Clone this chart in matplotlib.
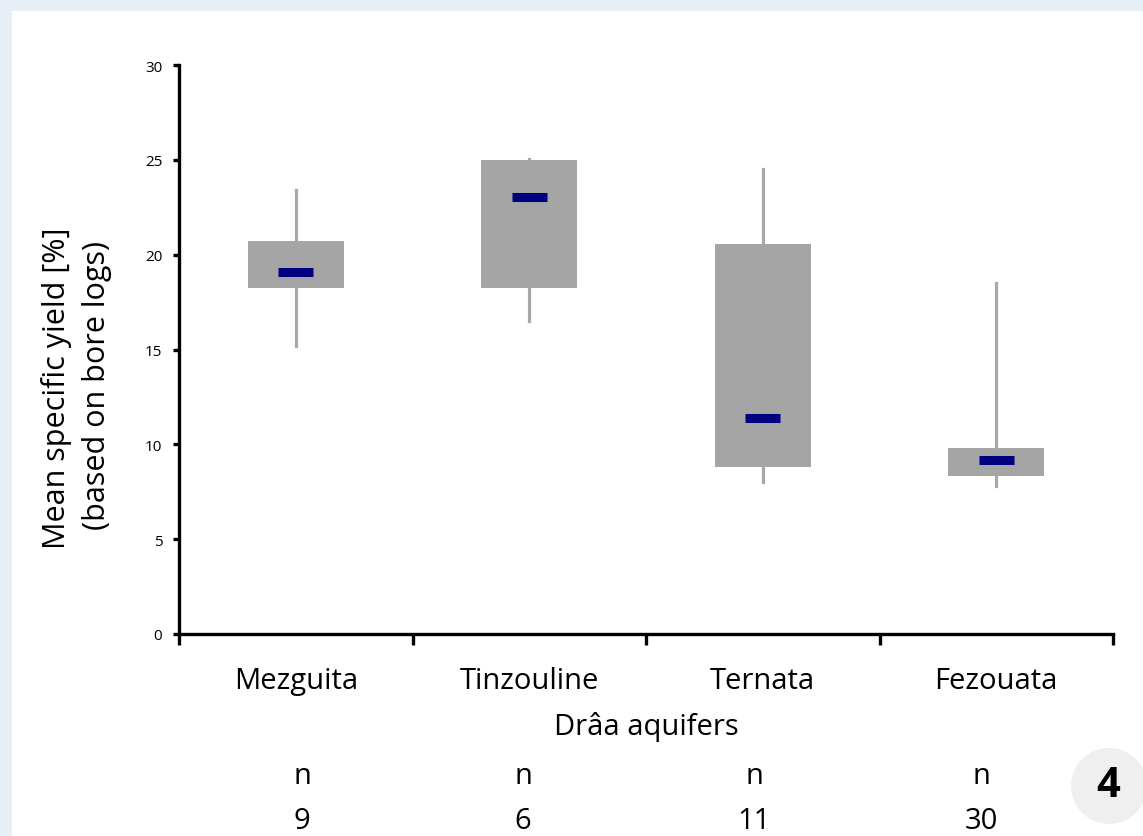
import matplotlib
matplotlib.use("Agg")
import matplotlib.pyplot as plt
from matplotlib.patches import Ellipse
import matplotlib.transforms as mtransforms

plt.rcParams["font.family"] = ["Open Sans", "DejaVu Sans"]

# ── data ─────────────────────────────────────────────────────────────────────
aquifers = ["Mezguita", "Tinzouline", "Ternata", "Fezouata"]
n_samples = [9, 6, 11, 30]
whisk_lo = [15.2, 16.5, 8.0, 7.8]
q1 = [18.25, 18.25, 8.8, 8.35]
median = [19.1, 23.05, 11.4, 9.2]
q3 = [20.7, 25.0, 20.55, 9.8]
whisk_hi = [23.4, 25.05, 24.5, 18.5]
y_ticks = [0, 5, 10, 15, 20, 25, 30]

# layout (pixels in the 1143x837 picture)
W, H = 1143, 837
n_col_x = [302, 523, 754, 981]

BOX_GREY = "#a5a5a5"
NAVY = "#000080"
BIG = 21

fig = plt.figure(figsize=(W / 100, H / 100), dpi=100)
fig.patch.set_facecolor("#e7eef6")

# white panel behind everything
bg = fig.add_axes([12 / W, 0, 1 - 12 / W, 1 - 12 / H], zorder=-10)
bg.set_facecolor("white")
bg.set_xticks([])
bg.set_yticks([])
for s in bg.spines.values():
    s.set_visible(False)

ax = fig.add_axes([179 / W, 1 - 635 / H, (1113 - 179) / W, (635 - 66) / H])
ax.set_facecolor("none")

positions = [i + 0.5 for i in range(len(aquifers))]
stats = [dict(med=m, q1=a, q3=b, whislo=lo, whishi=hi, fliers=[])
         for m, a, b, lo, hi in zip(median, q1, q3, whisk_lo, whisk_hi)]

ax.bxp(stats, positions=positions, widths=0.41, patch_artist=True,
       showcaps=False, showfliers=False,
       boxprops=dict(facecolor=BOX_GREY, edgecolor="none", linewidth=0),
       whiskerprops=dict(color="#a8a8a8", linewidth=2.3),
       medianprops=dict(visible=False), manage_ticks=False)

# short navy median bars
ax.hlines(median, [p - 0.075 for p in positions], [p + 0.075 for p in positions],
          colors=NAVY, linewidth=6.5, zorder=5)

ax.set_xlim(0, len(aquifers))
ax.set_ylim(0, 30)

for s in ["top", "right"]:
    ax.spines[s].set_visible(False)
for s in ["left", "bottom"]:
    ax.spines[s].set_linewidth(2.4)
    ax.spines[s].set_color("black")

ax.set_yticks(y_ticks)
ax.tick_params(axis="y", direction="out", length=4, width=2.4, pad=8,
               labelsize=11, colors="black")
ax.set_xticks(range(len(aquifers) + 1))
ax.set_xticklabels([])
ax.tick_params(axis="x", which="major", direction="out", length=8, width=2.4)
ax.set_xticks(positions, minor=True)
ax.set_xticklabels(aquifers, minor=True, fontsize=BIG)
ax.tick_params(axis="x", which="minor", length=0, pad=23)

fig.text(57 / W, 1 - 388 / H, "Mean specific yield [%]", rotation=90,
         ha="center", va="center", fontsize=22)
fig.text(97 / W, 1 - 386 / H, "(based on bore logs)", rotation=90,
         ha="center", va="center", fontsize=22)
fig.text(646 / W, 1 - 727 / H, "Drâa aquifers", ha="center", va="center",
         fontsize=BIG)

for x, n in zip(n_col_x, n_samples):
    fig.text(x / W, 1 - 777 / H, "n", ha="center", va="center", fontsize=BIG)
    fig.text(x / W, 1 - 822 / H, str(n), ha="center", va="center", fontsize=BIG)

fig.add_artist(Ellipse((1109 / W, 1 - 787 / H), 76 / W, 76 / H,
                       transform=fig.transFigure, facecolor="#efefef",
                       edgecolor="none"))
fig.text(1108 / W, 1 - 787 / H, "4", ha="center", va="center",
         fontsize=30, fontweight="bold")

fig.savefig("out.png", dpi=100, facecolor=fig.get_facecolor())
